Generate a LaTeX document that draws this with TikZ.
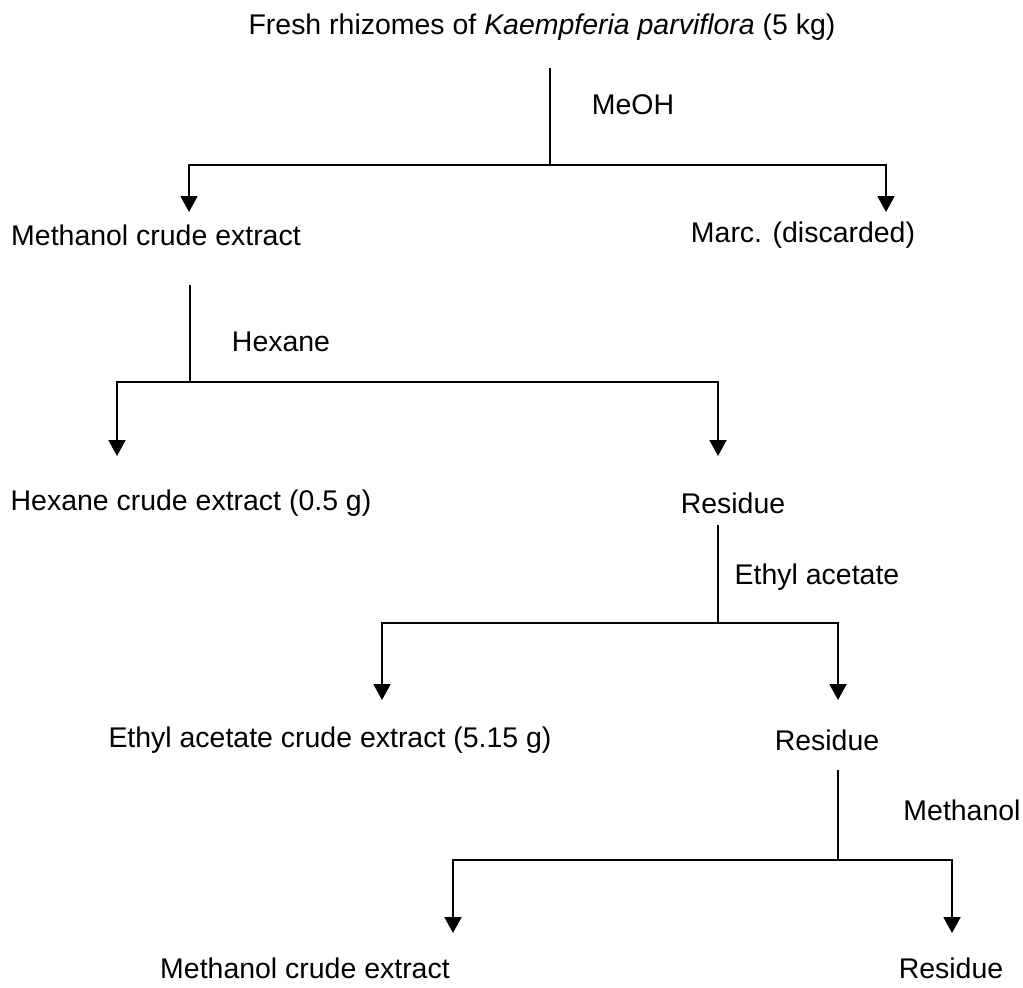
\documentclass[tikz,border=0pt]{standalone}
\usepackage{fontspec}
\setmainfont{Liberation Sans}
\usetikzlibrary{arrows.meta, positioning}

\begin{document}
\begin{tikzpicture}[x=0.02cm, y=-0.02cm, lbl/.style={inner sep=0pt,font=\fontsize{16.2}{19}\selectfont}, arr/.style={-{Triangle[length=0.32cm,width=0.34cm]},line width=1.1pt}, ln/.style={line width=1.1pt}]
  \useasboundingbox (0,0) rectangle (1023,987);
  % texts
  \node[lbl](src) at (542,27){Fresh rhizomes of \textit{Kaempferia parviflora} (5 kg)};
  \node[lbl](mce1) at (156,235){Methanol crude extract};
  \node[lbl](marc) at (803,235){Marc. (discarded)};
  \node[lbl](hex) at (191,503){Hexane crude extract (0.5 g)};
  \node[lbl](res1) at (733,503){Residue};
  \node[lbl](ea) at (330,740){Ethyl acetate crude extract (5.15 g)};
  \node[lbl](res2) at (827,740){Residue};
  \node[lbl](mce2) at (305,968){Methanol crude extract};
  \node[lbl](res3) at (951,968){Residue};
  % solvents
  \node[lbl](meoh) at (633,105){MeOH};
  \node[lbl](hexs) at (281,342){Hexane};
  \node[lbl](eas) at (817,577){Ethyl acetate};
  \node[lbl](meth) at (962,810){Methanol};
  % stems and junctions
  \coordinate(s1) at (550,68); \coordinate(j1) at (550,165);
  \coordinate(s2) at (190,285); \coordinate(j2) at (190,382);
  \coordinate(s3) at (718,525); \coordinate(j3) at (718,623);
  \coordinate(s4) at (838,770); \coordinate(j4) at (838,860);
  % arrow ends
  \coordinate(t1) at (189,212); \coordinate(t2) at (886,212);
  \coordinate(t3) at (117,456); \coordinate(t4) at (718,456);
  \coordinate(t5) at (382,700); \coordinate(t6) at (838,700);
  \coordinate(t7) at (453,933); \coordinate(t8) at (952,933);
  \foreach \x/\y in {s1/j1,s2/j2,s3/j3,s4/j4}{\draw[ln](\x)--(\y);}
  \foreach \x/\y in {j1/t1,j1/t2,j2/t3,j2/t4,j3/t5,j3/t6,j4/t7,j4/t8}{\draw[arr](\x)-|(\y);}
\end{tikzpicture}
\end{document}
